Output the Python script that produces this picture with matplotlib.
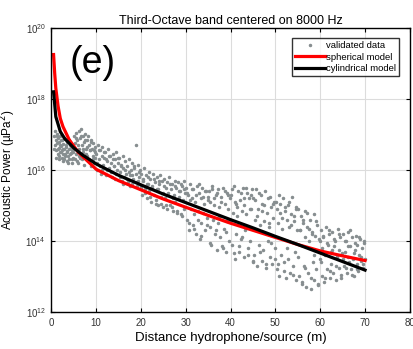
import numpy as np
import matplotlib
matplotlib.use("Agg")
import matplotlib.pyplot as plt
import matplotlib.ticker as mticker

# measured points: distance (m) and log10 of acoustic power
dist_a = [0.6, 0.8, 0.9, 1.0, 1.1, 1.2, 1.3, 1.4, 1.5, 1.6, 1.7, 1.8, 1.9, 2.0, 2.1, 2.2, 2.3, 2.4, 2.5,
          2.6, 2.7, 2.8, 2.9, 3.0, 3.1, 3.2, 3.4, 3.5, 3.6, 3.8, 3.9, 4.0, 4.2, 4.3, 4.5, 4.6, 4.8, 4.9]
logp_a = [16.95, 17.1, 16.7, 16.85, 16.55, 17.0, 16.75, 16.45, 16.9, 16.62, 16.8, 16.4, 16.7, 16.95, 16.5,
          16.68, 16.35, 16.85, 16.6, 16.45, 16.72, 16.3, 16.58, 16.88, 16.4, 16.65, 16.25, 16.52, 16.78,
          16.38, 16.6, 16.3, 16.7, 16.48, 16.2, 16.55, 16.35, 16.62]
dist_b = [5.0, 5.2, 5.3, 5.5, 5.6, 5.8, 5.9, 6.1, 6.2, 6.4, 6.5, 6.7, 6.8, 7.0, 7.1, 7.3, 7.4, 7.6, 7.7,
          7.9, 8.0, 8.2, 8.3, 8.5, 8.6, 8.8, 8.9, 9.1, 9.2, 9.4, 9.5, 9.7, 9.8]
logp_b = [16.95, 16.3, 16.75, 17.05, 16.45, 16.85, 16.2, 17.1, 16.6, 16.9, 16.35, 17.15, 16.7, 16.95, 16.5,
          16.8, 16.15, 17.0, 16.6, 16.85, 16.4, 16.95, 16.25, 16.7, 16.55, 16.8, 16.1, 16.6, 16.4, 16.75,
          16.2, 16.5, 16.65]
dist_c = [10.0, 10.2, 10.4, 10.6, 10.8, 11.0, 11.2, 11.4, 11.6, 11.8, 12.0, 12.3, 12.5, 12.7, 12.9,
          13.1, 13.3, 13.5, 13.7, 13.9, 14.1, 14.3, 14.5, 14.7, 14.9,
          15.1, 15.3, 15.5, 15.7, 15.9, 16.1, 16.3, 16.5, 16.7, 16.9, 17.1, 17.3, 17.5, 17.7, 17.9,
          18.1, 18.3, 18.5, 18.8, 18.9, 19.1, 19.3, 19.5, 19.7, 19.9]
logp_c = [16.45, 16.0, 16.7, 16.3, 16.55, 15.9, 16.4, 16.65, 16.15, 16.35, 16.5, 15.85, 16.25, 16.6, 16.05,
          16.4, 16.2, 15.8, 16.45, 16.1, 16.3, 15.75, 16.5, 16.0, 16.2,
          16.35, 15.95, 16.15, 15.7, 16.4, 16.05, 15.8, 16.25, 15.9, 16.1, 15.65, 16.3, 15.85, 16.0, 15.6,
          16.2, 15.75, 16.05, 16.7, 15.9, 15.55, 16.15, 15.8, 16.0, 15.5]
dist_d = [20.1, 20.3, 20.5, 20.7, 20.9, 21.1, 21.3, 21.5, 21.7, 21.9, 22.1, 22.3, 22.5, 22.7, 22.9,
          23.1, 23.3, 23.5, 23.7, 23.9, 24.1, 24.3, 24.5, 24.7, 24.9,
          25.1, 25.3, 25.5, 25.7, 25.9, 26.1, 26.3, 26.5, 26.7, 26.9, 27.1, 27.3, 27.5, 27.7, 27.9,
          28.1, 28.3, 28.5, 28.7, 28.9, 29.1, 29.3, 29.5, 29.7, 29.9]
logp_d = [15.9, 15.3, 15.7, 16.05, 15.45, 15.85, 15.2, 15.6, 15.95, 15.4, 15.75, 15.1, 15.55, 15.9, 15.3,
          15.65, 15.05, 15.8, 15.45, 15.0, 15.6, 15.85, 15.25, 15.7, 14.95,
          15.75, 15.2, 15.5, 14.9, 15.65, 15.35, 15.8, 15.0, 15.45, 15.6, 14.85, 15.3, 15.7, 15.1, 15.5,
          14.8, 15.65, 15.25, 15.4, 14.75, 15.55, 15.15, 15.7, 14.9, 15.35]
dist_e = [30.1, 30.3, 30.5, 30.7, 30.9, 31.1, 31.3, 31.5, 31.7, 31.9, 32.1, 32.3, 32.5, 32.7, 32.9,
          33.1, 33.3, 33.5, 33.7, 33.9, 34.1, 34.3, 34.5, 34.7, 34.9,
          35.1, 35.3, 35.5, 35.7, 35.9, 36.1, 36.3, 36.5, 36.7, 36.9, 37.1, 37.3, 37.5, 37.7, 37.9,
          38.1, 38.3, 38.5, 38.7, 38.9, 39.1, 39.3, 39.5, 39.7, 39.9]
logp_e = [15.5, 14.6, 15.3, 14.3, 15.6, 14.9, 15.2, 14.45, 15.45, 14.75, 15.1, 14.2, 15.55, 14.6, 15.35,
          14.05, 15.2, 14.5, 15.5, 14.8, 15.05, 14.3, 15.4, 14.65, 15.25,
          15.4, 14.4, 15.1, 13.9, 15.55, 14.6, 15.0, 14.2, 15.3, 13.75, 15.45, 14.5, 14.95, 14.1, 15.25,
          13.85, 15.5, 14.35, 15.05, 13.7, 15.35, 14.55, 14.9, 14.0, 15.2]
dist_f = [40.1, 40.3, 40.5, 40.7, 40.9, 41.1, 41.3, 41.5, 41.7, 41.9, 42.1, 42.3, 42.5, 42.7, 42.9,
          43.1, 43.3, 43.5, 43.7, 43.9, 44.1, 44.3, 44.5, 44.7, 44.9,
          45.1, 45.3, 45.5, 45.7, 45.9, 46.1, 46.3, 46.5, 46.7, 46.9, 47.1, 47.3, 47.5, 47.7, 47.9,
          48.1, 48.3, 48.5, 48.7, 48.9, 49.1, 49.3, 49.5, 49.7, 49.9]
logp_f = [15.3, 13.9, 14.8, 15.55, 13.5, 15.05, 14.2, 14.7, 15.4, 13.7, 15.15, 14.05, 14.85, 15.5, 13.55,
          15.0, 14.3, 14.75, 15.35, 13.8, 15.2, 14.0, 14.9, 15.45, 13.45,
          15.2, 13.6, 14.6, 15.45, 13.3, 14.9, 13.9, 14.45, 15.3, 13.45, 15.05, 13.75, 14.55, 15.4, 13.25,
          14.8, 14.0, 14.4, 15.25, 13.55, 14.95, 13.35, 14.65, 15.1, 13.8]
dist_g = [50.1, 50.3, 50.5, 50.7, 50.9, 51.1, 51.3, 51.5, 51.7, 51.9, 52.1, 52.3, 52.5, 52.7, 52.9,
          53.1, 53.3, 53.5, 53.7, 53.9, 54.1, 54.3, 54.5, 54.7, 54.9,
          55.1, 55.3, 55.5, 55.7, 55.9, 56.1, 56.3, 56.5, 56.7, 56.9, 57.1, 57.3, 57.5, 57.7, 57.9,
          58.1, 58.3, 58.5, 58.7, 58.9, 59.1, 59.3, 59.5, 59.7, 59.9]
logp_g = [15.1, 13.2, 14.5, 15.3, 13.0, 14.8, 13.6, 14.35, 15.2, 13.4, 14.95, 12.95, 14.6, 15.0, 13.5,
          14.4, 13.1, 14.75, 15.25, 13.3, 14.55, 13.7, 14.9, 12.9, 14.3,
          14.9, 13.0, 14.3, 14.7, 12.8, 14.5, 13.3, 14.1, 14.85, 12.7, 14.4, 13.1, 14.0, 14.6, 12.65,
          14.25, 13.4, 14.75, 12.9, 14.15, 13.2, 14.45, 12.75, 14.05, 13.5]
dist_h = [60.1, 60.3, 60.5, 60.7, 60.9, 61.1, 61.3, 61.5, 61.7, 61.9, 62.1, 62.3, 62.5, 62.7, 62.9,
          63.1, 63.3, 63.5, 63.7, 63.9, 64.1, 64.3, 64.5, 64.7, 64.9,
          65.1, 65.3, 65.5, 65.7, 65.9, 66.1, 66.3, 66.5, 66.7, 66.9, 67.1, 67.3, 67.5, 67.7, 67.9,
          68.1, 68.3, 68.5, 68.7, 68.9, 69.1, 69.3, 69.5, 69.7, 69.9]
logp_h = [14.3, 13.0, 13.8, 14.1, 12.85, 13.6, 14.4, 13.2, 13.9, 14.2, 12.95, 13.7, 13.35, 14.25, 13.1,
          13.85, 14.0, 12.9, 13.55, 14.35, 13.25, 13.75, 14.1, 13.05, 13.65,
          14.2, 13.3, 13.7, 14.0, 13.1, 13.55, 14.25, 13.4, 13.85, 13.2, 14.1, 13.5, 13.0, 13.75, 14.15,
          13.35, 13.9, 13.15, 13.6, 14.05, 13.45, 13.8, 13.25, 13.95, 13.5]

# second pass of measurements, between the first ones
dist_i = [0.7, 1.05, 1.25, 1.45, 1.65, 1.95, 2.15, 2.35, 2.55, 2.75, 2.95, 3.25, 3.45, 3.7, 3.95, 4.15,
          4.4, 4.65, 4.85, 5.15, 5.45, 5.65, 5.95, 6.25, 6.55, 6.85, 7.15, 7.45, 7.75, 8.05, 8.35, 8.65,
          8.95, 9.25, 9.55, 9.85]
logp_i = [16.6, 16.35, 16.95, 16.6, 16.3, 16.5, 16.85, 16.55, 16.25, 16.9, 16.45, 16.7, 16.5, 16.2, 16.85,
          16.45, 16.65, 16.3, 16.5, 16.6, 16.9, 16.25, 16.7, 16.4, 16.95, 16.3, 16.6, 16.85, 16.45, 16.65,
          16.3, 16.55, 16.85, 16.3, 16.55, 16.35]
dist_j = [10.15, 10.55, 10.95, 11.35, 11.75, 12.15, 12.45, 12.85, 13.25, 13.65, 14.05, 14.45, 14.85,
          15.25, 15.65, 16.05, 16.45, 16.85, 17.25, 17.65, 18.05, 18.45, 18.85, 19.25, 19.65,
          20.05, 20.45, 20.85, 21.25, 21.65, 22.05, 22.45, 22.85, 23.25, 23.65, 24.05, 24.45, 24.85,
          25.25, 25.65, 26.05, 26.45, 26.85, 27.25, 27.65, 28.05, 28.45, 28.85, 29.25, 29.65]
logp_j = [16.2, 16.55, 16.1, 16.0, 16.5, 16.3, 16.0, 16.4, 15.95, 16.3, 16.1, 15.9, 16.35, 15.8, 16.1,
          15.6, 16.0, 15.75, 15.95, 15.55, 15.85, 16.1, 15.65, 15.7, 15.95,
          15.55, 15.75, 15.35, 15.6, 15.8, 15.25, 15.5, 15.75, 15.15, 15.45, 15.7, 15.05, 15.35, 15.55,
          15.0, 15.3, 15.6, 14.95, 15.2, 15.55, 14.85, 15.4, 15.6, 14.7, 15.45]
dist_k = [30.25, 30.65, 31.05, 31.45, 31.85, 32.25, 32.65, 33.05, 33.45, 33.85, 34.25, 34.65, 35.05,
          35.45, 35.85, 36.25, 36.65, 37.05, 37.45, 37.85, 38.25, 38.65, 39.05, 39.45, 39.85,
          40.25, 40.65, 41.05, 41.45, 41.85, 42.25, 42.65, 43.05, 43.45, 43.85, 44.25, 44.65, 45.05,
          45.45, 45.85, 46.25, 46.65, 47.05, 47.45, 47.85, 48.25, 48.65, 49.05, 49.45, 49.85]
logp_k = [15.35, 14.5, 15.15, 15.45, 14.35, 15.3, 14.85, 15.6, 14.15, 15.25, 15.4, 14.45, 15.15, 13.95,
          15.45, 15.2, 14.3, 15.35, 14.7, 15.1, 13.8, 15.4, 14.25, 15.3, 14.6,
          15.45, 13.65, 15.1, 14.95, 13.85, 15.35, 14.1, 15.2, 15.5, 13.6, 14.9, 15.3, 13.4, 15.15, 14.7,
          15.35, 13.7, 14.85, 15.0, 13.35, 15.2, 14.5, 13.95, 15.05, 13.5]
dist_l = [50.25, 50.65, 51.05, 51.45, 51.85, 52.25, 52.65, 53.05, 53.45, 53.85, 54.25, 54.65, 55.05,
          55.45, 55.85, 56.25, 56.65, 57.05, 57.45, 57.85, 58.25, 58.65, 59.05, 59.45, 59.85,
          60.25, 60.65, 61.05, 61.45, 61.85, 62.25, 62.65, 63.05, 63.45, 63.85, 64.25, 64.65, 65.05,
          65.45, 65.85, 66.25, 66.65, 67.05, 67.45, 67.85, 68.25, 68.65, 69.05, 69.45, 69.85]
logp_l = [14.9, 13.35, 15.05, 14.65, 13.15, 14.85, 13.8, 15.1, 14.45, 13.05, 14.7, 14.95, 13.55, 14.3,
          12.85, 14.6, 13.25, 14.8, 14.35, 12.95, 14.2, 13.6, 14.55, 12.8, 14.0,
          13.4, 14.15, 12.95, 13.95, 14.3, 13.15, 13.75, 14.05, 13.3, 13.6, 14.2, 12.95, 13.5, 14.0, 13.25,
          13.85, 14.3, 13.05, 13.65, 13.95, 13.2, 14.1, 13.55, 13.35, 14.0]

# model curves
sph_dist = [0.5, 0.75, 1, 1.5, 2, 2.6, 4, 6, 10, 15, 20, 25, 30, 35, 40, 45, 50, 55, 60, 65, 70]
sph_logp = [19.25, 18.72, 18.3, 17.8, 17.45, 17.22, 16.85, 16.5, 16.02, 15.7, 15.44, 15.18, 14.95,
            14.72, 14.5, 14.3, 14.1, 13.9, 13.72, 13.58, 13.45]
cyl_dist = [0.5, 1, 2, 3, 5, 7, 10, 15, 20, 25, 30, 35, 40, 45, 50, 55, 60, 65, 70]
cyl_logp = [18.2, 17.5, 17.08, 16.88, 16.62, 16.42, 16.17, 15.85, 15.58, 15.32, 15.08, 14.84, 14.6,
            14.37, 14.13, 13.9, 13.66, 13.42, 13.18]

dist = dist_a + dist_b + dist_c + dist_d + dist_e + dist_f + dist_g + dist_h + dist_i + dist_j + dist_k + dist_l
logp = logp_a + logp_b + logp_c + logp_d + logp_e + logp_f + logp_g + logp_h + logp_i + logp_j + logp_k + logp_l
power = 10.0 ** np.array(logp)

plt.rcParams['font.family'] = ['Liberation Sans', 'DejaVu Sans']

fig = plt.figure(figsize=(4.14, 3.49), dpi=100)
ax = fig.add_axes([0.124, 0.106, 0.866, 0.814])

ax.plot(dist, power, '.', color='#878e90', markersize=3.0, label='validated data')
ax.plot(sph_dist, 10.0 ** np.array(sph_logp), color='red', lw=2.3, label='spherical model')
ax.plot(cyl_dist, 10.0 ** np.array(cyl_logp), color='black', lw=2.3, label='cylindrical model')

ax.set_yscale('log')
ax.set_xlim(0, 80)
ax.set_ylim(1e12, 1e20)
ax.set_xticks(range(0, 81, 10))
ax.yaxis.set_major_locator(mticker.FixedLocator([1e12, 1e14, 1e16, 1e18, 1e20]))
ax.yaxis.set_minor_locator(mticker.NullLocator())
ax.grid(True, color='#dcdcdc', lw=0.8)
ax.tick_params(direction='in', top=True, right=True, length=3, labelsize=7,
               labelcolor='#333333', pad=4)
for s in ax.spines.values():
    s.set_linewidth(1.0)

ax.set_title('Third-Octave band centered on 8000 Hz', fontsize=9, pad=3)
ax.set_xlabel('Distance hydrophone/source (m)', fontsize=9.5, labelpad=3)
ax.set_ylabel('Acoustic Power (µPa$^2$)', fontsize=8.5, labelpad=5)

ax.text(0.05, 0.875, '(e)', transform=ax.transAxes, fontsize=27, va='center', ha='left')

leg = ax.legend(loc='upper right', bbox_to_anchor=(0.975, 0.97), fontsize=6.8, frameon=True,
                fancybox=False, edgecolor='black', handlelength=3.2, handletextpad=0.1,
                borderpad=0.3, labelspacing=0.25, borderaxespad=0.2, markerscale=1.0)
leg.get_frame().set_linewidth(1.0)

fig.savefig('out.png', dpi=100)
